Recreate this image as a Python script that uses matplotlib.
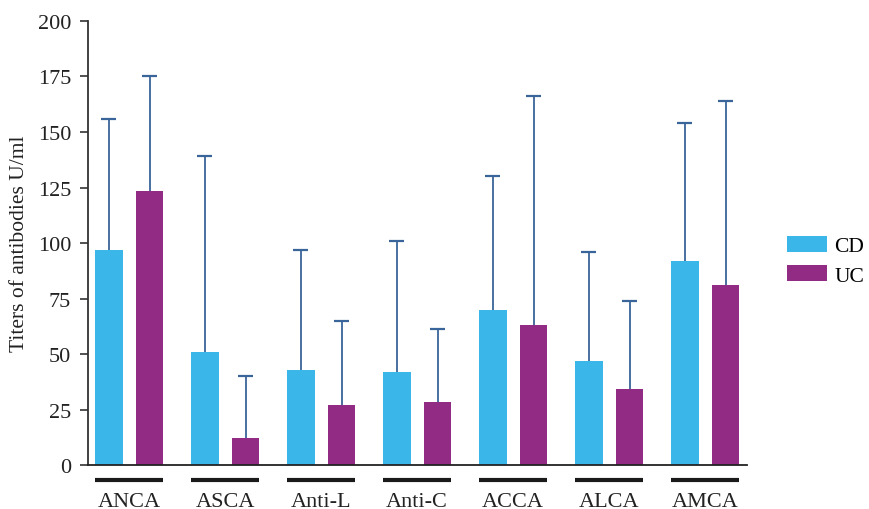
import numpy as np
import matplotlib.pyplot as plt
from matplotlib.patches import Patch
import matplotlib.transforms as mtransforms

plt.rcParams['font.family'] = ['Liberation Serif', 'DejaVu Serif']

# antibody titres (mean and upper SD) for Crohn's disease and ulcerative colitis
markers = ["ANCA", "ASCA", "Anti-L", "Anti-C", "ACCA", "ALCA", "AMCA"]
cd_mean = [97, 51, 43, 42, 70, 47, 92]
cd_sd = [59, 88, 54, 59, 60, 49, 62]
uc_mean = [123.5, 12, 27, 28.5, 63, 34.5, 81]
uc_sd = [51.5, 28, 38, 33, 103, 39.5, 83]

CD_COLOR = "#3BB6E8"
UC_COLOR = "#922B84"
ERR_COLOR = "#3A659A"
TXT = "#222222"

fig = plt.figure(figsize=(8.69, 5.10), dpi=100)
ax = fig.add_axes([0.101, 0.086, 0.759, 0.871])

x = np.arange(len(markers))
off = 0.213
w = 0.29
cap = 0.075

def draw_group(pos, mean, sd, color):
    ax.bar(pos, mean, w, color=color, zorder=2)
    top = np.array(mean) + np.array(sd)
    # one-sided error bars: stem from bar top plus cap
    ax.vlines(pos, mean, top, color=ERR_COLOR, lw=1.3, zorder=1)
    ax.hlines(top, pos - cap, pos + cap, color=ERR_COLOR, lw=1.6, zorder=1)

draw_group(x - off, cd_mean, cd_sd, CD_COLOR)
draw_group(x + off, uc_mean, uc_sd, UC_COLOR)

ax.set_xlim(-0.43, 6.44)
ax.set_ylim(0, 200)
ax.set_yticks(np.arange(0, 201, 25))
ax.set_xticks(x)
ax.set_xticklabels(markers)
ax.tick_params(axis='x', length=0, pad=19, labelsize=16, colors=TXT)
ax.tick_params(axis='y', length=6, width=1.2, pad=6, labelsize=16, colors=TXT)
ax.tick_params(axis='y', color='#333333')

for s in ("top", "right"):
    ax.spines[s].set_visible(False)
ax.spines["left"].set_color("#333333")
ax.spines["left"].set_linewidth(1.3)
ax.spines["bottom"].set_color("#222222")
ax.spines["bottom"].set_linewidth(1.3)

# group underlines below the axis
trans = mtransforms.blended_transform_factory(ax.transData, ax.transAxes)
for xi in x:
    ax.plot([xi - 0.35, xi + 0.35], [-0.033, -0.033], color="#1a1a1a",
            lw=3, transform=trans, clip_on=False, solid_capstyle='butt')

ax.set_ylabel("Titers of antibodies U/ml", fontsize=15.5, color=TXT, labelpad=6)

handles = [Patch(facecolor=CD_COLOR, label="CD"), Patch(facecolor=UC_COLOR, label="UC")]
fig.legend(handles=handles, loc="center left", bbox_to_anchor=(0.888, 0.487),
           frameon=False, fontsize=15.5, handlelength=1.85, handleheight=0.8,
           handletextpad=0.35, labelspacing=0.4, borderpad=0.2)

fig.savefig("out.png", dpi=100)
